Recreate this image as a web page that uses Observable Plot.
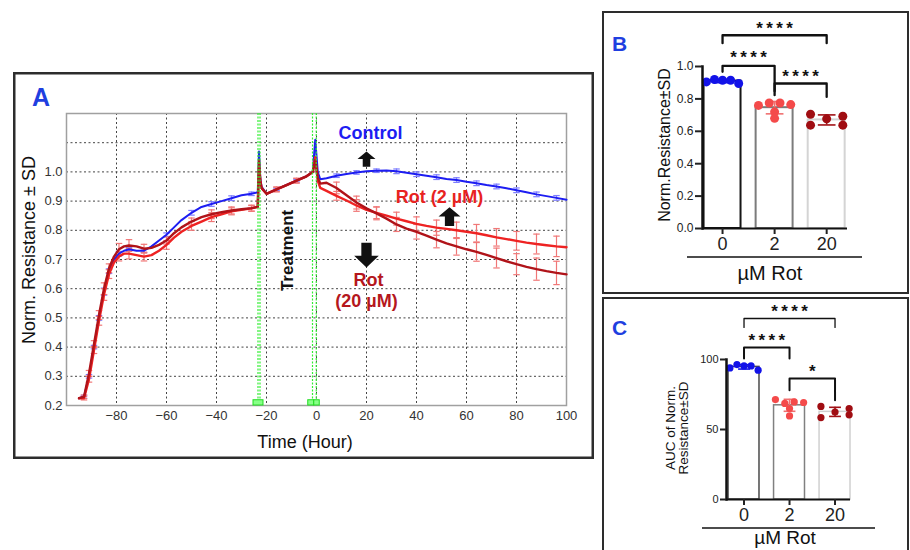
<!DOCTYPE html>
<html><head><meta charset="utf-8">
<script src="https://cdn.jsdelivr.net/npm/d3@7"></script>
<script src="https://cdn.jsdelivr.net/npm/@observablehq/plot@0.6"></script>
<style>
body{margin:0;background:#fff;}
#wrap{position:relative;width:910px;height:550px;overflow:hidden;background:#fff;font-family:"Liberation Sans",Arial,sans-serif;}
#wrap svg{position:absolute;overflow:visible;}
</style></head><body><div id="wrap"></div>
<script>
// ---------- Panel A data (time course) ----------
const hours = [-95,-93,-91,-89,-87,-85,-83,-81,-79,-77,-75,-72,-69,-66,-63,-60,-57,-54,-50,-46,-42,-38,-34,-30,-26,-23.5,-23,-22.5,-22,-20,-16,-12,-8,-4,-1.5,-0.5,
  0.5,1.5,4,8,12,16,20,24,28,32,36,40,44,48,52,56,60,64,68,72,76,80,84,88,92,96,100];
const control = [0.225,0.23,0.30,0.40,0.50,0.59,0.66,0.70,0.72,0.73,0.735,0.73,0.73,0.745,0.765,0.785,0.81,0.835,0.86,0.88,0.89,0.90,0.91,0.92,0.925,0.93,1.07,0.98,0.95,0.925,0.94,0.955,0.97,0.985,1.0,1.11,
  1.0,0.975,0.978,0.987,0.993,0.998,1.002,1.004,1.005,1.002,0.997,0.992,0.987,0.982,0.976,0.972,0.966,0.961,0.955,0.95,0.944,0.937,0.93,0.923,0.917,0.911,0.905];
const rot2 = [0.225,0.225,0.29,0.39,0.49,0.58,0.65,0.69,0.71,0.72,0.72,0.715,0.71,0.715,0.73,0.75,0.775,0.795,0.815,0.83,0.845,0.855,0.865,0.87,0.875,0.88,1.02,0.97,0.945,0.925,0.94,0.955,0.97,0.985,1.0,1.05,
  0.97,0.945,0.935,0.918,0.902,0.885,0.87,0.86,0.85,0.84,0.831,0.822,0.815,0.809,0.805,0.8,0.795,0.79,0.783,0.776,0.77,0.764,0.758,0.753,0.749,0.745,0.742];
const rot20 = [0.225,0.23,0.31,0.41,0.51,0.60,0.67,0.71,0.735,0.745,0.748,0.745,0.737,0.74,0.75,0.765,0.79,0.81,0.83,0.845,0.855,0.862,0.868,0.872,0.876,0.88,1.04,0.97,0.945,0.925,0.94,0.955,0.97,0.985,1.0,1.04,
  0.98,0.96,0.963,0.945,0.92,0.895,0.875,0.858,0.84,0.82,0.806,0.795,0.782,0.768,0.755,0.745,0.735,0.726,0.716,0.705,0.694,0.684,0.675,0.667,0.66,0.654,0.649];
const errHours = [-93,-91,-89,-87,-85,-83,-79,-75,-69,-60,-50,-42,-34,-26,-16,-8,8,16,24,32,40,48,56,64,72,80,88,96];
const sdControl = [0.005,0.006,0.006,0.008,0.012,0.008,0.008,0.006,0.006,0.006,0.008,0.008,0.008,0.006,0.004,0.004,0.006,0.006,0.006,0.008,0.008,0.008,0.008,0.008,0.008,0.008,0.008,0.008];
const sdRot2 = [0.006,0.01,0.012,0.015,0.02,0.015,0.015,0.018,0.015,0.015,0.015,0.015,0.012,0.01,0.008,0.008,0.015,0.02,0.02,0.022,0.024,0.026,0.028,0.03,0.03,0.032,0.034,0.035];
const sdRot20 = [0.006,0.01,0.012,0.015,0.02,0.015,0.02,0.02,0.015,0.012,0.012,0.015,0.012,0.01,0.008,0.008,0.02,0.022,0.022,0.024,0.025,0.028,0.03,0.032,0.034,0.036,0.038,0.04];
const treatmentLines = [-23.4,-22.6,-1.6,-0.1];
const treatmentBoxStart = [-25.2,-3.3,-0.9];
const treatmentBoxEnd = [-21.2,-0.9,1.3];
const xTicksA = [-80,-60,-40,-20,0,20,40,60,80,100];
const yTicksA = [0.2,0.3,0.4,0.5,0.6,0.7,0.8,0.9,1.0];
const yGridA = [0.3,0.4,0.5,0.6,0.7,0.8,0.9,1.0,1.1];
// annotations (A)
const seriesLabels = ["Control","Rot (2 µM)","Rot","(20 µM)"];
const seriesLabelHours = [21.6,49.2,20.8,20];
const seriesLabelLevels = [1.131,0.912,0.628,0.556];
const upArrowHours = [20,53.2];
const upArrowLevels = [1.044,0.847];
const downArrowHours = [20];
const downArrowLevels = [0.715];

// ---------- Panels B & C data ----------
const doses = ["0","2","20"];
const normRes = [[0.905,0.92,0.915,0.915,0.895],[0.76,0.775,0.775,0.765,0.72,0.68],[0.705,0.638,0.677,0.693,0.638]];
const aucVals = [[94.0,96.4,95.4,95.4,92.4],[71.4,68.6,69.7,69.3,65.0,59.7],[66.5,62.5,58.5,65.0,60.5]];
const yTicksB = [0,0.2,0.4,0.6,0.8,1.0];
const yTicksC = [0,50,100];
const bFrom=[0,0,1], bTo=[2,1,2], bTop=[1.193,1.004,0.895], bLeftEnd=[1.144,0.967,0.847], bRightEnd=[1.144,0.823,0.812], bLabel=["****","****","****"], bLabelY=[1.235,1.056,0.939];
const cFrom=[0,0,1], cTo=[2,1,2], cTop=[129.3,108.6,86.4], cLeftEnd=[122.9,100.7,78.1], cRightEnd=[122.9,100.7,70.9], cLabel=["****","****","*"], cLabelY=[134.5,113.3,91.3];

// ---------- styles ----------
const FONT = '"Liberation Sans", Arial, sans-serif';
const COL = {blue:"#1d1df2", red:"#ee2222", dark:"#b01319", errBlue:"#7d7dff", errRed:"#f07777"};
const dotColors = ["#1212e8","#f44a4a","#a00d12"];
const errColors = ["#1212e8","#f07070","#a01015"];
const barStrokeB = ["#151515","#7c7c7c","#d4d4d4"];
const barStrokeC = ["#4a4a4a","#808080","#d0d0d0"];

const wrap = document.getElementById("wrap");
function place(svg, left, top){ svg.style.left = left+"px"; svg.style.top = top+"px"; wrap.appendChild(svg); }

// ---------- Panel A ----------
const seriesA = [
  {vals: control, sd: sdControl, line: COL.blue, err: COL.errBlue, w: 2},
  {vals: rot2, sd: sdRot2, line: COL.red, err: COL.errRed, w: 2.4},
  {vals: rot20, sd: sdRot20, line: COL.dark, err: COL.errRed, w: 2.4}
];
const errMarks = [];
const lineMarks = [];
for (const s of seriesA) {
  const pts = hours.map((h,i)=>({t:h, v:s.vals[i]}));
  const eb = errHours.map((h,k)=>{const i = hours.indexOf(h); return {t:h, lo:s.vals[i]-s.sd[k], hi:s.vals[i]+s.sd[k]};});
  errMarks.push(
    Plot.ruleX(eb, {x:"t", y1:"lo", y2:"hi", stroke:s.err, strokeWidth:1.2}),
    Plot.link(eb, {x1:d=>d.t-1.3, x2:d=>d.t+1.3, y1:"hi", y2:"hi", stroke:s.err, strokeWidth:1.2}),
    Plot.link(eb, {x1:d=>d.t-1.3, x2:d=>d.t+1.3, y1:"lo", y2:"lo", stroke:s.err, strokeWidth:1.2})
  );
  lineMarks.push(Plot.line(pts, {x:"t", y:"v", stroke:s.line, strokeWidth:s.w, curve:"linear"}));
}
const arrowUp = {draw(ctx,size){const s=Math.sqrt(size/Math.PI);ctx.moveTo(0,-0.85*s);ctx.lineTo(s,0);ctx.lineTo(0.42*s,0);ctx.lineTo(0.42*s,0.85*s);ctx.lineTo(-0.42*s,0.85*s);ctx.lineTo(-0.42*s,0);ctx.lineTo(-s,0);ctx.closePath();}};
const arrowDown = {draw(ctx,size){const s=Math.sqrt(size/Math.PI);ctx.moveTo(-0.42*s,-s);ctx.lineTo(0.42*s,-s);ctx.lineTo(0.42*s,0.05*s);ctx.lineTo(s,0.05*s);ctx.lineTo(0,s);ctx.lineTo(-s,0.05*s);ctx.lineTo(-0.42*s,0.05*s);ctx.closePath();}};
const labelColors = [COL.blue, "#e8231f", "#b5171d", "#b5171d"];
const labelData = seriesLabels.map((l,i)=>({text:l, t:seriesLabelHours[i], v:seriesLabelLevels[i], c:labelColors[i]}));
const boxes = treatmentBoxStart.map((s,i)=>({x1:s, x2:treatmentBoxEnd[i]}));

const plotA = Plot.plot({
  width:580, height:386, marginLeft:53, marginRight:27, marginTop:41, marginBottom:53,
  x:{domain:[-100,100]}, y:{domain:[0.2,1.2]},
  color:{type:"identity"},
  style:{fontFamily:FONT, fontSize:"13px", color:"#333", background:"transparent"},
  marks:[
    Plot.gridX(xTicksA.slice(0,-1), {stroke:"#444", strokeOpacity:1, strokeDasharray:"2,2.5"}),
    Plot.gridY(yGridA, {stroke:"#444", strokeOpacity:1, strokeDasharray:"2,2.5"}),
    Plot.frame({stroke:"#a0a0a0", strokeWidth:1.5}),
    Plot.axisX(xTicksA, {tickSize:0, tickPadding:5, fontSize:13, label:null}),
    Plot.axisY(yTicksA, {tickSize:0, tickPadding:4, fontSize:13, tickFormat:d3.format(".1f"), label:null}),
    ...errMarks,
    ...lineMarks,
    Plot.ruleX(treatmentLines, {stroke:"#33ee33", strokeWidth:1.2, strokeDasharray:"2,1.5"}),
    Plot.rect(boxes, {x1:"x1", x2:"x2", y1:()=>0.2, y2:()=>0.218, fill:"#88ff88", stroke:"#22dd22", strokeWidth:1}),
    Plot.dot(upArrowHours.map((h,i)=>({t:h, v:upArrowLevels[i]})).slice(0,1), {x:"t", y:"v", r:9, symbol:arrowUp, fill:"#111", stroke:"none"}),
    Plot.dot(upArrowHours.map((h,i)=>({t:h, v:upArrowLevels[i]})).slice(1), {x:"t", y:"v", r:11, symbol:arrowUp, fill:"#111", stroke:"none"}),
    Plot.dot(downArrowHours.map((h,i)=>({t:h, v:downArrowLevels[i]})), {x:"t", y:"v", r:12.3, symbol:arrowDown, fill:"#111", stroke:"none"}),
    Plot.text(labelData, {x:"t", y:"v", text:"text", fill:"c", fontSize:18, fontWeight:"bold"}),
    Plot.text(["Treatment"], {x:()=>-11.6, y:()=>0.731, text:d=>d, rotate:-90, fontSize:17, fontWeight:"bold", fill:"#111"})
  ]
});
place(plotA, 13, 72);

// ---------- bar panels ----------
function spreadX(vals, center, halfSpan, thr){
  const idx = vals.map((v,i)=>i).sort((a,b)=>vals[b]-vals[a]);
  const rows=[]; let cur=null;
  for (const i of idx){ if (cur && vals[cur.first]-vals[i] < thr) cur.m.push(i); else { cur={first:i, m:[i]}; rows.push(cur);} }
  const x = new Array(vals.length);
  for (const r of rows){ const m=r.m.slice().sort((a,b)=>a-b), k=m.length; m.forEach((i,j)=>{ x[i] = center + (k===1 ? 0 : -halfSpan + 2*halfSpan*j/(k-1)); }); }
  return x;
}
function barPanel(cfg){
  const bars = cfg.groups.map((vals,i)=>({i, mean:d3.mean(vals), sd:d3.deviation(vals), stroke:cfg.barStroke[i], err:errColors[i]}));
  const dots = cfg.groups.flatMap((vals,i)=>{ const xs = spreadX(vals, i, cfg.spread, cfg.thr); return vals.map((v,j)=>({x:xs[j], v, c:dotColors[i]})); });
  const brackets = cfg.from.map((f,k)=>({k, f, t:cfg.to[k], top:cfg.top[k], le:cfg.leftEnd[k], re:cfg.rightEnd[k], label:cfg.label[k], ly:cfg.labelY[k]}));
  const bpts = brackets.flatMap(b=>[{k:b.k,x:b.f,y:b.le},{k:b.k,x:b.f,y:b.top},{k:b.k,x:b.t,y:b.top},{k:b.k,x:b.t,y:b.re}]);
  const stars = s => s.split("").join("\u2009");
  return Plot.plot({
    width:cfg.width, height:cfg.height, marginLeft:cfg.ml, marginRight:cfg.mr, marginTop:cfg.mt, marginBottom:cfg.mb,
    x:{domain:cfg.xDomain}, y:{domain:cfg.yDomain},
    color:{type:"identity"},
    style:{fontFamily:FONT, fontSize:"12px", color:"#222", background:"transparent"},
    marks:[
      Plot.rect(bars, {x1:d=>d.i-cfg.hw, x2:d=>d.i+cfg.hw, y1:()=>0, y2:"mean", fill:"white", stroke:"stroke", strokeWidth:cfg.barW}),
      Plot.ruleX(bars, {x:"i", y1:d=>d.mean-d.sd, y2:d=>d.mean+d.sd, stroke:"err", strokeWidth:1.6}),
      Plot.link(bars, {x1:d=>d.i-cfg.cap, x2:d=>d.i+cfg.cap, y1:d=>d.mean+d.sd, y2:d=>d.mean+d.sd, stroke:"err", strokeWidth:1.6}),
      Plot.link(bars, {x1:d=>d.i-cfg.cap, x2:d=>d.i+cfg.cap, y1:d=>d.mean-d.sd, y2:d=>d.mean-d.sd, stroke:"err", strokeWidth:1.6}),
      Plot.dot(dots, {x:"x", y:"v", r:cfg.r, fill:"c", stroke:"none"}),
      Plot.ruleY([0], {stroke:"#111", strokeWidth:2}),
      Plot.frame({anchor:"left", stroke:"#111", strokeWidth:2.5}),
      Plot.axisY(cfg.yTicks, {tickSize:cfg.ytick, tickPadding:2, fontSize:cfg.yFont, strokeWidth:2, tickFormat:cfg.yFormat, label:null}),
      Plot.axisX([0,1,2], {tickSize:6, tickPadding:3, fontSize:18, strokeWidth:2, tickFormat:i=>doses[i], label:null}),
      Plot.line(bpts.filter(p=>!cfg.thin.includes(p.k)), {x:"x", y:"y", z:"k", stroke:"#111", strokeWidth:cfg.bw}),
      Plot.line(bpts.filter(p=>cfg.thin.includes(p.k)), {x:"x", y:"y", z:"k", stroke:"#111", strokeWidth:1.3}),
      Plot.text(brackets, {x:d=>(d.f+d.t)/2, y:"ly", text:d=>stars(d.label), fontSize:cfg.starFont, fontWeight:"bold", fill:"#111"})
    ]
  });
}
const plotB = barPanel({groups:normRes, barStroke:barStrokeB, width:305, height:281, ml:99, mr:61, mt:54, mb:65,
  xDomain:[-0.385,2.4], yDomain:[0,1], hw:0.355, barW:2, cap:0.17, r:4.5, spread:0.31, thr:0.037,
  yTicks:yTicksB, ytick:7, yFont:12, yFormat:d3.format(".1f"),
  from:bFrom, to:bTo, top:bTop, leftEnd:bLeftEnd, rightEnd:bRightEnd, label:bLabel, labelY:bLabelY, thin:[], bw:2.3, starFont:17});
place(plotB, 603, 12);
const plotC = barPanel({groups:aucVals, barStroke:barStrokeC, width:305, height:252, ml:123, mr:58, mt:61, mb:51,
  xDomain:[-0.385,2.34], yDomain:[0,100], hw:0.34, barW:1.5, cap:0.13, r:3.6, spread:0.31, thr:4.3,
  yTicks:yTicksC, ytick:6, yFont:11, yFormat:d3.format("d"),
  from:cFrom, to:cTo, top:cTop, leftEnd:cLeftEnd, rightEnd:cRightEnd, label:cLabel, labelY:cLabelY, thin:[0], bw:2, starFont:17});
place(plotC, 603, 298);

// ---------- frames, panel letters, axis titles ----------
const ov = document.createElementNS("http://www.w3.org/2000/svg","svg");
ov.setAttribute("width","910"); ov.setAttribute("height","550");
ov.style.left="0px"; ov.style.top="0px"; ov.style.pointerEvents="none";
ov.innerHTML = `
<g fill="none" stroke="#2d2d2d">
  <rect x="14.25" y="73.25" width="578.5" height="384.5" stroke-width="2.5"/>
  <rect x="603" y="12" width="305" height="281" stroke-width="2"/>
  <rect x="603" y="298" width="305" height="262" stroke-width="2"/>
  <line x1="687" x2="862" y1="257" y2="257" stroke="#111" stroke-width="1.5"/>
  <line x1="702" x2="875" y1="528" y2="528" stroke="#111" stroke-width="1.5"/>
</g>
<g font-family='"Liberation Sans", Arial, sans-serif' fill="#111">
  <text x="32" y="106" font-size="25" font-weight="bold" fill="#1f3fe0">A</text>
  <text x="612" y="50.5" font-size="21" font-weight="bold" fill="#1f3fe0">B</text>
  <text x="612" y="334.5" font-size="21" font-weight="bold" fill="#1f3fe0">C</text>
  <text transform="translate(35,250) rotate(-90)" text-anchor="middle" font-size="18">Norm. Resistance ± SD</text>
  <text x="305" y="448" text-anchor="middle" font-size="18">Time (Hour)</text>
  <text transform="translate(669.5,145) rotate(-90)" text-anchor="middle" font-size="16">Norm.Resistance±SD</text>
  <text transform="translate(674.5,428) rotate(-90)" text-anchor="middle" font-size="13.5">AUC of Norm.</text>
  <text transform="translate(688,428) rotate(-90)" text-anchor="middle" font-size="13.5">Resistance±SD</text>
  <text x="770" y="280" text-anchor="middle" font-size="20">µM Rot</text>
  <text x="785" y="544" text-anchor="middle" font-size="19">µM Rot</text>
</g>`;
wrap.appendChild(ov);
</script></body></html>
